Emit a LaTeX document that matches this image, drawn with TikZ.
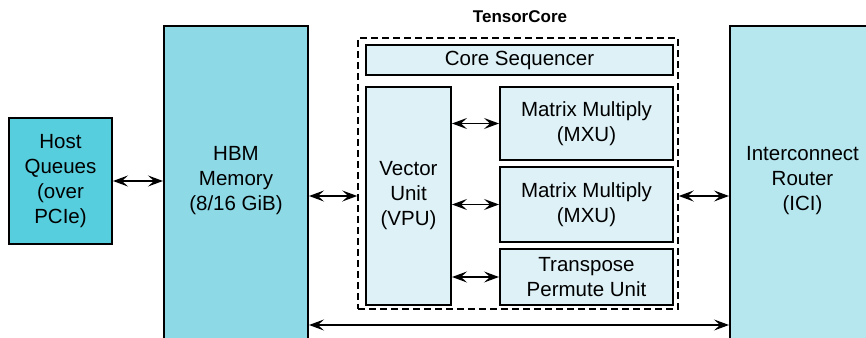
\documentclass[tikz,border=0pt]{standalone}
\usepackage{fontspec}
\setmainfont{Liberation Sans}
\usetikzlibrary{arrows.meta}
\definecolor{hostcyan}{HTML}{56CEDD}
\definecolor{hbmcyan}{HTML}{8DD9E6}
\definecolor{icicyan}{HTML}{B6E6EE}
\definecolor{unitcyan}{HTML}{DDF1F7}
\tikzset{
  blockbox/.style={draw=black, line width=2pt, align=center, inner sep=0pt},
  unitbox/.style={blockbox, fill=unitcyan},
  biarrow/.style={line width=1.4pt, {Stealth[length=15pt,width=11pt,inset=6pt]}-{Stealth[length=15pt,width=11pt,inset=6pt]}},
}
\begin{document}
\begin{tikzpicture}[x=1pt, y=1pt, font=\fontsize{20.5}{25}\selectfont]
    \useasboundingbox (0,0) rectangle (866,337);
    \clip (0,0) rectangle (866,337);
    % host and memory
    \node[blockbox, fill=hostcyan, minimum width=103pt, minimum height=126pt]
        (host) at (60.5,156) {Host\\Queues\\(over\\PCIe)};
    \node[blockbox, fill=hbmcyan, minimum width=144pt, minimum height=319pt]
        (hbm) at (236,151.5) {};
    \node[align=center] (hbmtext) at (236,156) {HBM\\Memory\\(8/16 GiB)};
    % interconnect
    \node[blockbox, fill=icicyan, minimum width=145pt, minimum height=319pt]
        (ici) at (802.5,151.5) {};
    \node[align=center] (icitext) at (802.5,156) {Interconnect\\Router\\(ICI)};
    % tensor core
    \node[draw=black, line width=1.5pt, dash pattern=on 7pt off 4pt,
        minimum width=320pt, minimum height=271pt] (core) at (518,163.5) {};
    \node[font=\fontsize{17}{20}\selectfont\bfseries] (title) at (520,320) {TensorCore};
    \node[unitbox, minimum width=307pt, minimum height=30pt] (seq) at (519.5,277) {Core Sequencer};
    \node[unitbox, minimum width=85pt, minimum height=218pt] (vpu) at (408.5,141) {Vector\\Unit\\(VPU)};
    \node[unitbox, minimum width=173pt, minimum height=73pt] (mxu1) at (586.5,213.5) {Matrix Multiply\\(MXU)};
    \node[unitbox, minimum width=173pt, minimum height=75pt] (mxu2) at (586.5,132.5) {Matrix Multiply\\(MXU)};
    \node[unitbox, minimum width=173pt, minimum height=56pt] (tpu) at (586.5,60) {Transpose\\Permute Unit};
    % connectors
    \draw[biarrow] (host.east) -- (host.east -| hbm.west);
    \draw[biarrow] (vpu -| hbm.east) -- (vpu -| core.west);
    \draw[biarrow] (vpu -| core.east) -- (vpu -| ici.west);
    \draw[biarrow] (vpu.east |- mxu1) -- (mxu1.west);
    \draw[biarrow] (vpu.east |- mxu2) -- (mxu2.west);
    \draw[biarrow] (vpu.east |- tpu) -- (tpu.west);
    \coordinate (bus) at (0,12);
    \draw[biarrow] (hbm.east |- bus) -- (ici.west |- bus);
\end{tikzpicture}
\end{document}
